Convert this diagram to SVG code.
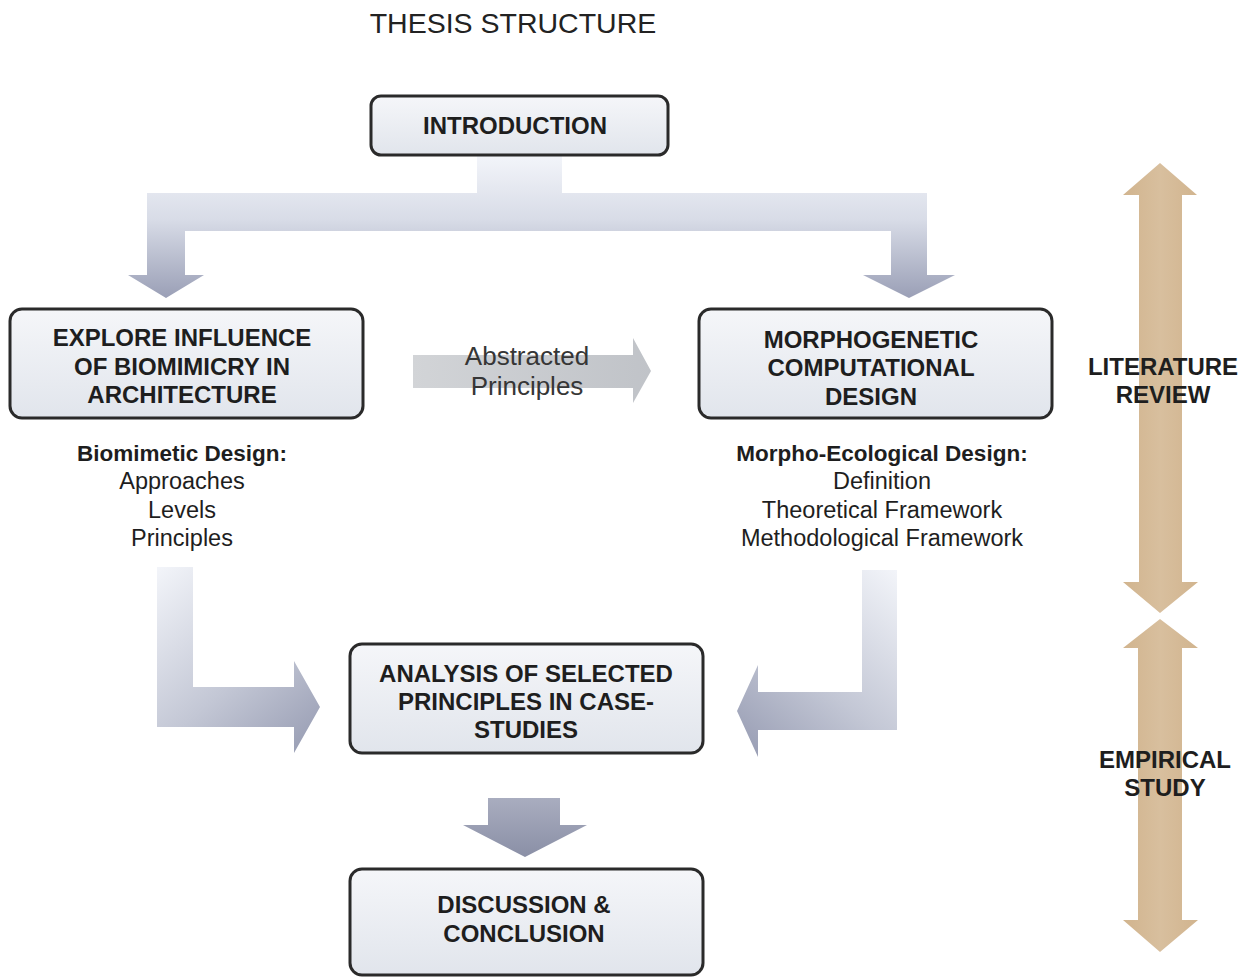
<svg xmlns="http://www.w3.org/2000/svg" width="1252" height="978" viewBox="0 0 1252 978">
  <defs>
    <linearGradient id="boxFill" x1="0" y1="0" x2="0" y2="1">
      <stop offset="0" stop-color="#f5f6f9"/>
      <stop offset="1" stop-color="#e1e5ec"/>
    </linearGradient>
    <linearGradient id="splitFill" gradientUnits="userSpaceOnUse" x1="0" y1="155" x2="0" y2="298">
      <stop offset="0" stop-color="#f3f5fa"/>
      <stop offset="0.45" stop-color="#d8dce7"/>
      <stop offset="1" stop-color="#9a9fb6"/>
    </linearGradient>
    <linearGradient id="leftLFill" gradientUnits="userSpaceOnUse" x1="160" y1="567" x2="320" y2="753">
      <stop offset="0" stop-color="#f2f4f9"/>
      <stop offset="0.55" stop-color="#c3c7d5"/>
      <stop offset="1" stop-color="#959ab1"/>
    </linearGradient>
    <linearGradient id="rightLFill" gradientUnits="userSpaceOnUse" x1="895" y1="570" x2="737" y2="757">
      <stop offset="0" stop-color="#f2f4f9"/>
      <stop offset="0.55" stop-color="#c3c7d5"/>
      <stop offset="1" stop-color="#959ab1"/>
    </linearGradient>
    <linearGradient id="downFill" gradientUnits="userSpaceOnUse" x1="0" y1="798" x2="0" y2="857">
      <stop offset="0" stop-color="#a9adbf"/>
      <stop offset="1" stop-color="#8a8fa6"/>
    </linearGradient>
    <linearGradient id="grayFill" gradientUnits="userSpaceOnUse" x1="413" y1="0" x2="651" y2="0">
      <stop offset="0" stop-color="#d2d4d7"/>
      <stop offset="1" stop-color="#c0c3c8"/>
    </linearGradient>
    <linearGradient id="tanFill" x1="0" y1="0" x2="1" y2="0">
      <stop offset="0" stop-color="#d1b48e"/>
      <stop offset="0.5" stop-color="#d8bf9e"/>
      <stop offset="1" stop-color="#d1b48e"/>
    </linearGradient>
    <style>
      .box { fill: url(#boxFill); stroke: #2a2a2a; stroke-width: 3; }
      .head { font-family: "Liberation Sans", Arial, sans-serif; font-weight: bold; font-size: 24px; fill: #1e1e1e; text-anchor: middle; }
      .sub { font-family: "Liberation Sans", Arial, sans-serif; font-size: 23.5px; fill: #1e1e1e; text-anchor: middle; }
      .subb { font-family: "Liberation Sans", Arial, sans-serif; font-weight: bold; font-size: 22.5px; fill: #1e1e1e; text-anchor: middle; }
      .label { font-family: "Liberation Sans", Arial, sans-serif; font-size: 26px; fill: #363636; text-anchor: middle; }
      .title { font-family: "Liberation Sans", Arial, sans-serif; font-size: 28.5px; fill: #222; text-anchor: middle; }
    </style>
  </defs>

  <rect width="1252" height="978" fill="#ffffff"/>

  <text class="title" x="513" y="33">THESIS STRUCTURE</text>

  <!-- connectors -->
  <g id="connectors">
    <path id="split" fill="url(#splitFill)" d="M477,155 H562 V193 H927 V275 H955 L909,298 L863,275 H891 V231 H185 V275 H204 L166,298 L128,275 H147 V193 H477 Z"/>
    <g id="abstracted">
      <path fill="url(#grayFill)" d="M413,355 H633 V338 L651,371 L633,403 V388 H413 Z"/>
      <text class="label" x="527" y="365">Abstracted</text>
      <text class="label" x="527" y="395">Principles</text>
    </g>
    <path id="leftL" fill="url(#leftLFill)" d="M157,567 H193 V687 H294 V661 L320,707 L294,753 V727 H157 Z"/>
    <path id="rightL" fill="url(#rightLFill)" d="M862,570 H897 V730 H758 V757 L737,711 L758,665 V692 H862 Z"/>
    <path id="down" fill="url(#downFill)" d="M488,798 H560 V825 H587 L525,857 L463,825 H488 Z"/>
  </g>

  <!-- phase bars -->
  <g id="phases">
    <path fill="url(#tanFill)" d="M1160,163 L1197,195 H1182 V582 H1198 L1160,613 L1123,582 H1139 V195 H1123 Z"/>
    <path fill="url(#tanFill)" d="M1160,619 L1198,648 H1182 V920 H1198 L1160,952 L1123,920 H1138 V648 H1123 Z"/>
    <text class="head" x="1163" y="375">LITERATURE</text>
    <text class="head" x="1163" y="403">REVIEW</text>
    <text class="head" x="1165" y="768">EMPIRICAL</text>
    <text class="head" x="1165" y="796">STUDY</text>
  </g>

  <g id="introduction">
    <rect class="box" x="371" y="96" width="297" height="59" rx="10"/>
    <text class="head" x="515" y="134">INTRODUCTION</text>
  </g>

  <g id="biomimicry">
    <rect class="box" x="10" y="309" width="353" height="109" rx="12"/>
    <text class="head" x="182" y="346">EXPLORE INFLUENCE</text>
    <text class="head" x="182" y="375">OF BIOMIMICRY IN</text>
    <text class="head" x="182" y="403">ARCHITECTURE</text>
    <text class="subb" x="182" y="461">Biomimetic Design:</text>
    <text class="sub" x="182" y="489">Approaches</text>
    <text class="sub" x="182" y="518">Levels</text>
    <text class="sub" x="182" y="546">Principles</text>
  </g>

  <g id="morphogenetic">
    <rect class="box" x="699" y="309" width="353" height="109" rx="12"/>
    <text class="head" x="871" y="348">MORPHOGENETIC</text>
    <text class="head" x="871" y="376">COMPUTATIONAL</text>
    <text class="head" x="871" y="405">DESIGN</text>
    <text class="subb" x="882" y="461">Morpho-Ecological Design:</text>
    <text class="sub" x="882" y="489">Definition</text>
    <text class="sub" x="882" y="518">Theoretical Framework</text>
    <text class="sub" x="882" y="546">Methodological Framework</text>
  </g>

  <g id="analysis">
    <rect class="box" x="350" y="644" width="353" height="109" rx="12"/>
    <text class="head" x="526" y="682">ANALYSIS OF SELECTED</text>
    <text class="head" x="526" y="710">PRINCIPLES IN CASE-</text>
    <text class="head" x="526" y="738">STUDIES</text>
  </g>

  <g id="discussion">
    <rect class="box" x="350" y="869" width="353" height="106" rx="12"/>
    <text class="head" x="524" y="913">DISCUSSION &amp;</text>
    <text class="head" x="524" y="942">CONCLUSION</text>
  </g>
</svg>
